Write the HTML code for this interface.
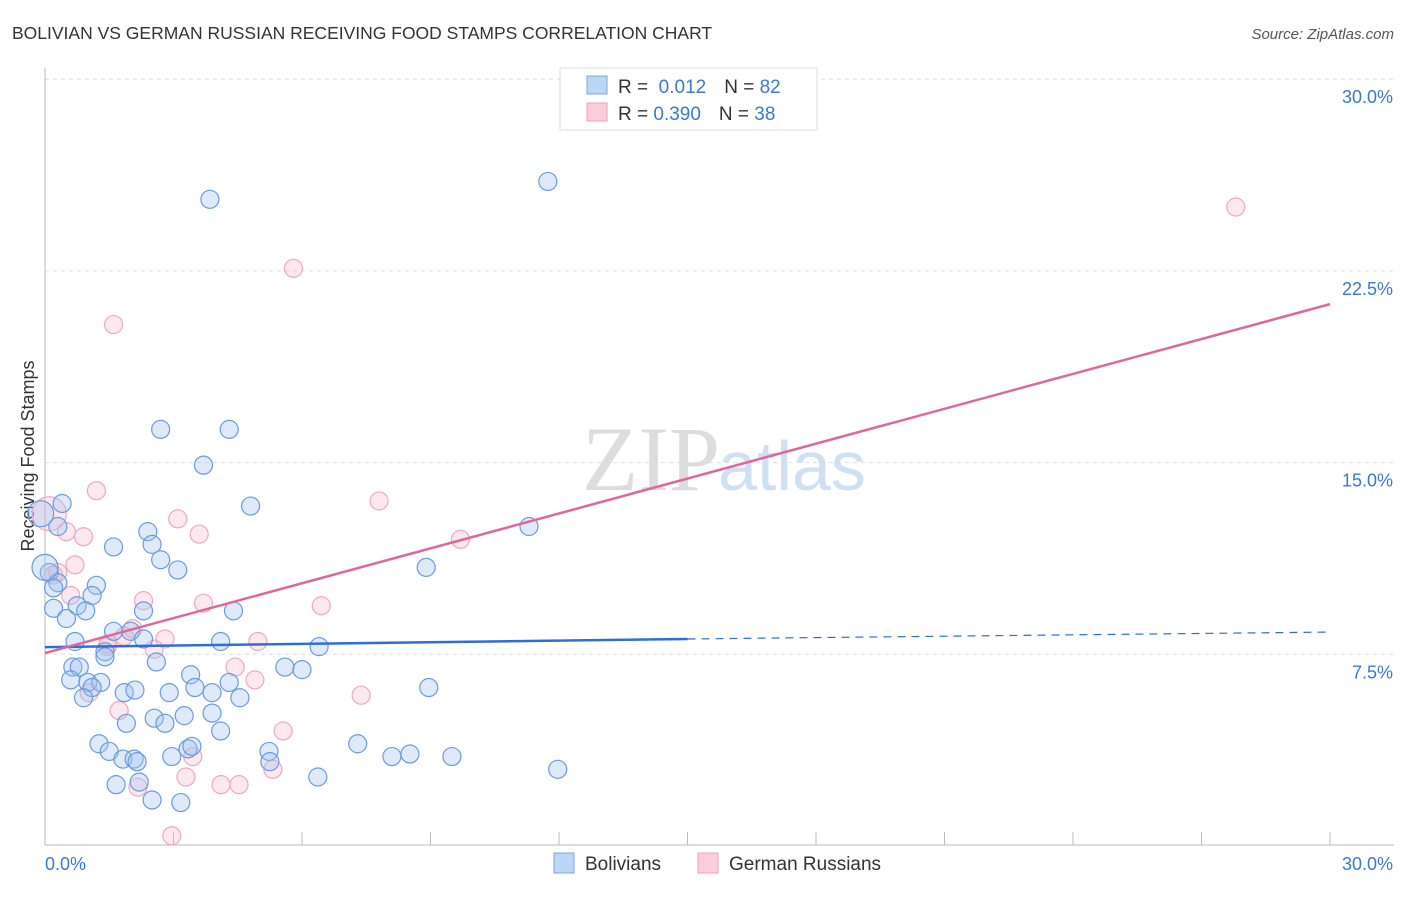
<!DOCTYPE html>
<html><head><meta charset="utf-8"><style>
body{margin:0;background:#fff;font-family:"Liberation Sans",sans-serif;}
</style></head><body>
<svg width="1406" height="892" xmlns="http://www.w3.org/2000/svg" font-family="Liberation Sans, sans-serif">
<text x="12" y="39" font-size="17.5" fill="#333">BOLIVIAN VS GERMAN RUSSIAN RECEIVING FOOD STAMPS CORRELATION CHART</text>
<text x="1394" y="39" font-size="15" fill="#555" font-style="italic" text-anchor="end">Source: ZipAtlas.com</text>
<text x="720" y="490" font-size="92" fill="#ddd" text-anchor="end" font-family="Liberation Serif, serif">ZIP</text>
<text x="718" y="490" font-size="70" fill="#cfe0f3">atlas</text>
<g id="grid"></g>
<line x1="45" y1="68" x2="45" y2="845" stroke="#bbb"/>
<line x1="45" y1="845" x2="1394" y2="845" stroke="#bbb"/>
<text x="34" y="456" font-size="18" fill="#333" text-anchor="middle" transform="rotate(-90 34 456)">Receiving Food Stamps</text>
<g id="ticks"></g>
<g id="pts"></g>
<g id="lines"></g>
<g>
<rect x="560" y="68" width="257" height="62" fill="#fff" stroke="#ddd"/>
<rect x="587" y="76" width="20" height="18" fill="#bcd6f5" stroke="#7aa6e0"/>
<rect x="587" y="103" width="20" height="18" fill="#f9cdd9" stroke="#eea0b8"/>
<text x="618" y="93" font-size="19" fill="#333">R = <tspan fill="#3a78d8">&#160;0.012</tspan><tspan dx="18">N = </tspan><tspan fill="#3a78d8">82</tspan></text>
<text x="618" y="120" font-size="19" fill="#333">R = <tspan fill="#3a78d8">0.390</tspan><tspan dx="18">N = </tspan><tspan fill="#3a78d8">38</tspan></text>
</g>
<g>
<rect x="554" y="853" width="20" height="20" fill="#bcd6f5" stroke="#7aa6e0"/>
<text x="585" y="870" font-size="19" fill="#333">Bolivians</text>
<rect x="698" y="853" width="20" height="20" fill="#f9cdd9" stroke="#eea0b8"/>
<text x="729" y="870" font-size="19" fill="#333">German Russians</text>
</g>
</svg>
<script>
const yTicks=[7.5,15,22.5,30];
const yTickLabels=["7.5%","15.0%","22.5%","30.0%"];
const bolX=[3.85,11.74,2.7,4.3,3.7,4.8,0.4,0.3,11.3,2.4,1.6,2.5,2.7,3.1,8.9,0.1,0.3,1.2,0.2,1.1,0.2,0.75,0.95,0.5,2.3,4.4,1.6,2.0,2.3,4.1,6.4,0.7,1.4,1.4,2.6,0.65,0.8,5.6,6.0,3.4,0.6,1.0,1.3,3.5,4.3,8.96,1.1,1.85,2.1,2.9,3.9,4.55,0.9,2.55,3.25,3.9,1.9,2.8,4.1,1.26,1.5,1.82,2.08,2.15,2.96,3.34,3.43,5.23,5.25,7.3,8.1,8.52,9.5,11.97,6.37,2.2,1.66,2.5,3.17,-0.1,0.0];
const bolY=[25.3,26.0,16.3,16.3,14.9,13.3,13.4,12.5,12.5,12.3,11.7,11.8,11.2,10.8,10.9,10.7,10.3,10.2,10.1,9.8,9.3,9.4,9.2,8.9,9.2,9.2,8.4,8.4,8.1,8.0,7.8,8.0,7.6,7.4,7.2,7.0,7.0,7.0,6.9,6.7,6.5,6.4,6.4,6.2,6.4,6.2,6.2,6.0,6.1,6.0,6.0,5.8,5.8,5.0,5.1,5.2,4.8,4.8,4.5,4.0,3.7,3.4,3.4,3.3,3.5,3.8,3.9,3.7,3.3,4.0,3.5,3.6,3.5,3.0,2.7,2.5,2.4,1.8,1.7,13.0,10.9];
const gerX=[27.8,5.8,1.6,1.2,7.8,3.1,3.6,0.5,0.9,9.7,0.7,0.3,0.2,0.6,2.3,3.7,6.45,2.05,2.8,4.97,1.45,2.55,4.44,4.9,7.38,1.03,1.73,5.56,3.45,3.29,5.32,4.11,4.53,2.17,2.96,0.1,1.47,1.85];
const gerY=[25.0,22.6,20.4,13.9,13.5,12.8,12.2,12.3,12.1,12.0,11.0,10.7,10.6,9.8,9.6,9.5,9.4,8.5,8.1,8.0,7.8,7.7,7.0,6.5,5.9,6.0,5.3,4.5,3.5,2.7,3.0,2.4,2.4,2.3,0.4,13.0,7.9,8.2];
const X=v=>45+v/30*1285, Y=v=>846-v/7.5*191.7;
const NS="http://www.w3.org/2000/svg";
function mk(t,a,p){const e=document.createElementNS(NS,t);for(const k in a)e.setAttribute(k,a[k]);p.appendChild(e);return e;}
const grid=document.getElementById('grid'),ticks=document.getElementById('ticks'),pts=document.getElementById('pts'),lines=document.getElementById('lines');
yTicks.forEach((v,i)=>{
 const l=mk('line',{x1:45,x2:1394,y1:Y(v),y2:Y(v),stroke:'#ddd','stroke-dasharray':'4,4'},grid);
 
 
 const t=mk('text',{x:1393,y:Y(v)+24,'font-size':18,fill:'#3a78d8','text-anchor':'end'},ticks);t.textContent=yTickLabels[i];
 
 
});
for(let i=0;i<=10;i++){const x=X(i*3);const l=mk('line',{x1:x,x2:x,y1:832,y2:845,stroke:'#bbb'},ticks);
 
 }
[["0.0%",45,'start'],["30.0%",1393,'end']].forEach(([s,x,a])=>{const t=mk('text',{x:x,y:870,'font-size':18,fill:'#3a78d8','text-anchor':a},ticks);t.textContent=s;
 
 });
gerX.forEach((x,i)=>{const c=mk('circle',{cx:X(x),cy:Y(gerY[i]),r:i==35?17:9,fill:'rgba(246,180,200,0.3)',stroke:'#f0a8c0','stroke-width':1.2},pts);
 
 });
bolX.forEach((x,i)=>{const c=mk('circle',{cx:X(x),cy:Y(bolY[i]),r:i>=79?13:9,fill:'rgba(160,196,240,0.35)',stroke:'#6a9be0','stroke-width':1.2},pts);
 
 });
let l=mk('line',{x1:X(0),y1:Y(7.78),x2:X(15),y2:Y(8.1),stroke:'#2d6fd6','stroke-width':2.5},lines);


l=mk('line',{x1:X(15),y1:Y(8.1),x2:X(30),y2:Y(8.37),stroke:'#2d6fd6','stroke-width':1.2,'stroke-dasharray':'8,6'},lines);


l=mk('line',{x1:X(0),y1:Y(7.55),x2:X(30),y2:Y(21.2),stroke:'#e0679a','stroke-width':2.5},lines);


</script>
</body></html>
